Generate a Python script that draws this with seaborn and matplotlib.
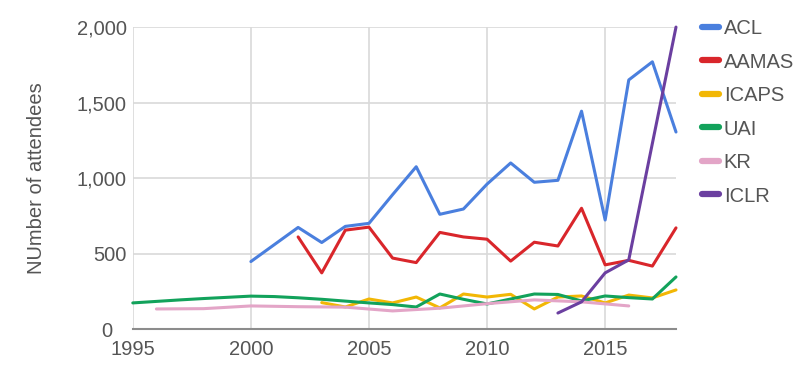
import numpy as np
import pandas as pd
import matplotlib
matplotlib.use("Agg")
import matplotlib.pyplot as plt
import seaborn as sns
from matplotlib.ticker import FuncFormatter
from matplotlib.lines import Line2D

years_acl = list(range(2000, 2019))
acl = [447, 560, 673, 573, 680, 700, 890, 1075, 760, 795, 960, 1100, 972, 985, 1443, 722, 1650, 1770, 1305]

years_aamas = list(range(2002, 2019))
aamas = [610, 372, 655, 675, 470, 440, 640, 610, 595, 450, 575, 550, 800, 425, 455, 417, 670]

years_icaps = list(range(2003, 2019))
icaps = [175, 146, 199, 173, 212, 140, 232, 212, 230, 133, 212, 219, 173, 225, 206, 259]

years_uai = list(range(1995, 2019))
uai = [173, 183, 193, 202, 210, 218, 215, 207, 197, 185, 173, 162, 146, 232, 197, 166, 199, 232, 229, 186, 219, 208, 199, 345]

years_kr = list(range(1996, 2017, 2))
kr = [133, 135, 153, 148, 145, 120, 138, 168, 193, 180, 153]

years_iclr = list(range(2013, 2019))
iclr = [106, 180, 372, 458, 1230, 2000]

conferences = ["ACL", "AAMAS", "ICAPS", "UAI", "KR", "ICLR"]
colors = ["#4a7fde", "#d9262b", "#f2b705", "#12a25b", "#e3a5c7", "#6b3fa0"]

x_ticks = [1995, 2000, 2005, 2010, 2015]
y_ticks = [0, 500, 1000, 1500, 2000]

series = {
    "ACL": (years_acl, acl),
    "AAMAS": (years_aamas, aamas),
    "ICAPS": (years_icaps, icaps),
    "UAI": (years_uai, uai),
    "KR": (years_kr, kr),
    "ICLR": (years_iclr, iclr),
}
rows = []
for name in conferences:
    ys, vs = series[name]
    for y, v in zip(ys, vs):
        rows.append({"year": y, "attendees": v, "conf": name})
df = pd.DataFrame(rows)

sns.set_theme(style="white")
plt.rcParams["font.family"] = ["Liberation Sans", "DejaVu Sans"]

fig = plt.figure(figsize=(8, 3.66), dpi=100)
ax = fig.add_axes([0.166, 0.101, 0.679, 0.825])

sns.lineplot(data=df, x="year", y="attendees", hue="conf", hue_order=conferences,
             palette=dict(zip(conferences, colors)), linewidth=2.2, ax=ax,
             legend=False, clip_on=False, zorder=3)

ax.set_xlim(1995, 2018)
ax.set_ylim(0, 2000)
ax.set_xticks(x_ticks)
ax.set_yticks(y_ticks)
ax.yaxis.set_major_formatter(FuncFormatter(lambda v, p: f"{int(v):,}"))
ax.grid(True, color="#d9d9d9", linewidth=1.2, zorder=0)
for s in ["top", "right", "left"]:
    ax.spines[s].set_visible(False)
ax.spines["bottom"].set_color("#8c8c8c")
ax.spines["bottom"].set_linewidth(1.5)
ax.tick_params(axis="both", length=0, labelsize=14.5, labelcolor="#555555")
ax.tick_params(axis="y", pad=4.5)
ax.tick_params(axis="x", pad=8)
ax.yaxis.get_major_ticks()[0].set_pad(15)
ax.set_xlabel("")
ax.set_ylabel("NUmber of attendees", fontsize=14.5, color="#555555")
ax.yaxis.set_label_coords(-0.16, 0.5)

handles = [Line2D([0], [0], color=c, linewidth=4.5) for c in colors]
fig.legend(handles, conferences, loc="upper left", bbox_to_anchor=(0.877, 0.948),
           frameon=False, fontsize=14.5, handlelength=0.85, handletextpad=0.25,
           labelspacing=0.72, labelcolor="#555555", borderpad=0, borderaxespad=0)

fig.savefig("out.png", dpi=100)
